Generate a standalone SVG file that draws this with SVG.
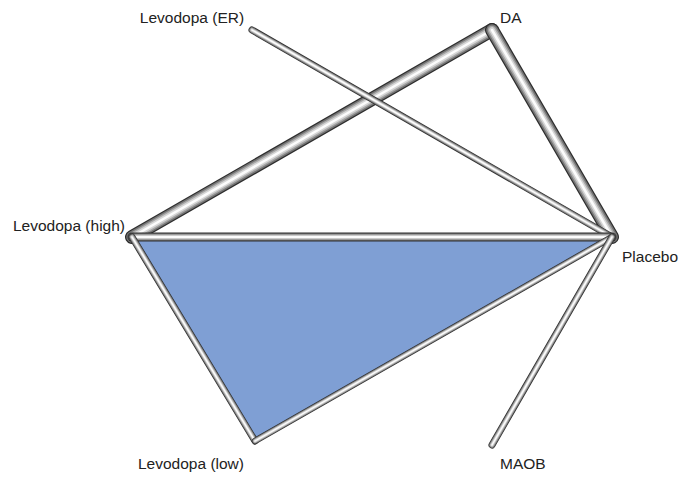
<svg xmlns="http://www.w3.org/2000/svg" xmlns:xlink="http://www.w3.org/1999/xlink" width="684" height="479" viewBox="0 0 684 479">
<style>
text{font-family:"Liberation Sans",Arial,sans-serif;font-size:15.5px;fill:#222}
.t{fill:none;stroke-linecap:round;stroke-linejoin:round}
.l0{stroke:#2e2e2e}
.l1{stroke:#747474}
.l2{stroke:#a8a8a8}
.l3{stroke:#d6d6d6}
.l4{stroke:#fcfcfc}
</style>
<defs>
<path id="e1" d="M132,237 L492,30"/>
<path id="e2" d="M492,30 L612,237"/>
<path id="e3" d="M252,30 L612,237"/>
<path id="e4" d="M132,237 L612,237"/>
<path id="e5" d="M132,237 L255,441"/>
<path id="e6" d="M255,441 L612,237"/>
<path id="e7" d="M492,445 L612,237"/>
</defs>
<polygon points="132,237 612,237 255,441" fill="#7f9fd4"/>
<g id="connectors">
<g id="c-high-da"><use xlink:href="#e1" class="t l0" stroke-width="14"/><use xlink:href="#e1" class="t l1" stroke-width="11.5"/><use xlink:href="#e1" class="t l2" stroke-width="8.5"/><use xlink:href="#e1" class="t l3" stroke-width="5.5"/><use xlink:href="#e1" class="t l4" stroke-width="2.5"/></g>
<g id="c-da-placebo"><use xlink:href="#e2" class="t l0" stroke-width="14"/><use xlink:href="#e2" class="t l1" stroke-width="11.5"/><use xlink:href="#e2" class="t l2" stroke-width="8.5"/><use xlink:href="#e2" class="t l3" stroke-width="5.5"/><use xlink:href="#e2" class="t l4" stroke-width="2.5"/></g>
<g id="c-er-placebo"><use xlink:href="#e3" class="t l0" stroke-width="7"/><use xlink:href="#e3" class="t l1" stroke-width="5.6"/><use xlink:href="#e3" class="t l2" stroke-width="4.2"/><use xlink:href="#e3" class="t l3" stroke-width="2.8"/><use xlink:href="#e3" class="t l4" stroke-width="1.4"/></g>
<g id="c-high-placebo"><use xlink:href="#e4" class="t l0" stroke-width="9"/><use xlink:href="#e4" class="t l1" stroke-width="7.2"/><use xlink:href="#e4" class="t l2" stroke-width="5.4"/><use xlink:href="#e4" class="t l3" stroke-width="3.6"/><use xlink:href="#e4" class="t l4" stroke-width="1.8"/></g>
<g id="c-high-low"><use xlink:href="#e5" class="t l0" stroke-width="7"/><use xlink:href="#e5" class="t l1" stroke-width="5.6"/><use xlink:href="#e5" class="t l2" stroke-width="4.2"/><use xlink:href="#e5" class="t l3" stroke-width="2.8"/><use xlink:href="#e5" class="t l4" stroke-width="1.4"/></g>
<g id="c-low-placebo"><use xlink:href="#e6" class="t l0" stroke-width="6.5"/><use xlink:href="#e6" class="t l1" stroke-width="5.2"/><use xlink:href="#e6" class="t l2" stroke-width="3.9"/><use xlink:href="#e6" class="t l3" stroke-width="2.6"/><use xlink:href="#e6" class="t l4" stroke-width="1.3"/></g>
<g id="c-maob-placebo"><use xlink:href="#e7" class="t l0" stroke-width="7"/><use xlink:href="#e7" class="t l1" stroke-width="5.6"/><use xlink:href="#e7" class="t l2" stroke-width="4.2"/><use xlink:href="#e7" class="t l3" stroke-width="2.8"/><use xlink:href="#e7" class="t l4" stroke-width="1.4"/></g>
</g>
<g id="n-er"><text x="192" y="23" text-anchor="middle">Levodopa (ER)</text></g>
<g id="n-da"><text x="500" y="23">DA</text></g>
<g id="n-high"><text x="125" y="231" text-anchor="end">Levodopa (high)</text></g>
<g id="n-placebo"><text x="622" y="262">Placebo</text></g>
<g id="n-low"><text x="191" y="469" text-anchor="middle">Levodopa (low)</text></g>
<g id="n-maob"><text x="500" y="469">MAOB</text></g>
</svg>
